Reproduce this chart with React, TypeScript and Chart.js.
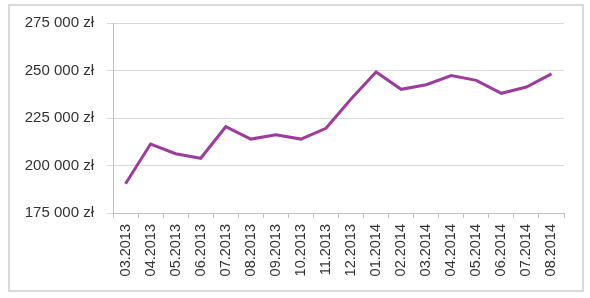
import React, { useEffect, useRef } from "react";
import { Chart, registerables } from "chart.js";

Chart.register(...registerables);

const categories = [
  "03.2013", "04.2013", "05.2013", "06.2013", "07.2013", "08.2013", "09.2013",
  "10.2013", "11.2013", "12.2013", "01.2014", "02.2014", "03.2014", "04.2014",
  "05.2014", "06.2014", "07.2014", "08.2014",
];

const values = [
  190400, 211300, 206200, 203800, 220400, 213900, 216200, 213900, 219600,
  235000, 249200, 240100, 242500, 247300, 244800, 238000, 241300, 248200,
];

const yMin = 175000;
const yMax = 275000;
const yStep = 25000;

const fmt = (v: number) =>
  String(Math.round(v)).replace(/\B(?=(\d{3})+(?!\d))/g, " ") + " zł";

export default function App() {
  const ref = useRef<HTMLCanvasElement | null>(null);

  useEffect(() => {
    if (!ref.current) return;
    const family = "'Liberation Sans', Arial, sans-serif";
    const chart = new Chart(ref.current, {
      type: "line",
      data: {
        labels: categories,
        datasets: [
          {
            data: values,
            borderColor: "#9E3C9E",
            borderWidth: 3,
            pointRadius: 0,
            tension: 0,
            fill: false,
          },
        ],
      },
      options: {
        animation: false,
        responsive: false,
        maintainAspectRatio: false,
        layout: { padding: { left: 0, right: 18, top: 17, bottom: 0 } },
        plugins: { legend: { display: false }, tooltip: { enabled: false } },
        scales: {
          x: {
            offset: true,
            grid: {
              offset: true,
              drawOnChartArea: false,
              drawTicks: true,
              tickLength: 5,
              color: "#BFBFBF",
            },
            border: { color: "#BFBFBF" },
            ticks: {
              color: "#333333",
              font: { family, size: 14.5 },
              maxRotation: 90,
              minRotation: 90,
              autoSkip: false,
              padding: 6,
            },
            afterFit: (s: any) => {
              s.height = 77;
            },
          },
          y: {
            min: yMin,
            max: yMax,
            grid: { color: "#D9D9D9", tickLength: 6, drawTicks: true },
            border: { color: "#BFBFBF" },
            ticks: {
              stepSize: yStep,
              color: "#333333",
              font: { family, size: 15 },
              padding: 13,
              callback: (v: any) => fmt(Number(v)),
            },
            afterFit: (s: any) => {
              s.width = 103;
              s.paddingTop = 9;
              s.paddingBottom = 9;
            },
          },
        },
      },
    });
    return () => chart.destroy();
  }, []);

  return (
    <div
      style={{
        position: "absolute",
        left: 8,
        top: 4,
        width: 572,
        height: 284,
        border: "2px solid #D9D9D9",
        background: "#fff",
      }}
    >
      <canvas ref={ref} width={572} height={284} style={{ display: "block" }} />
    </div>
  );
}
